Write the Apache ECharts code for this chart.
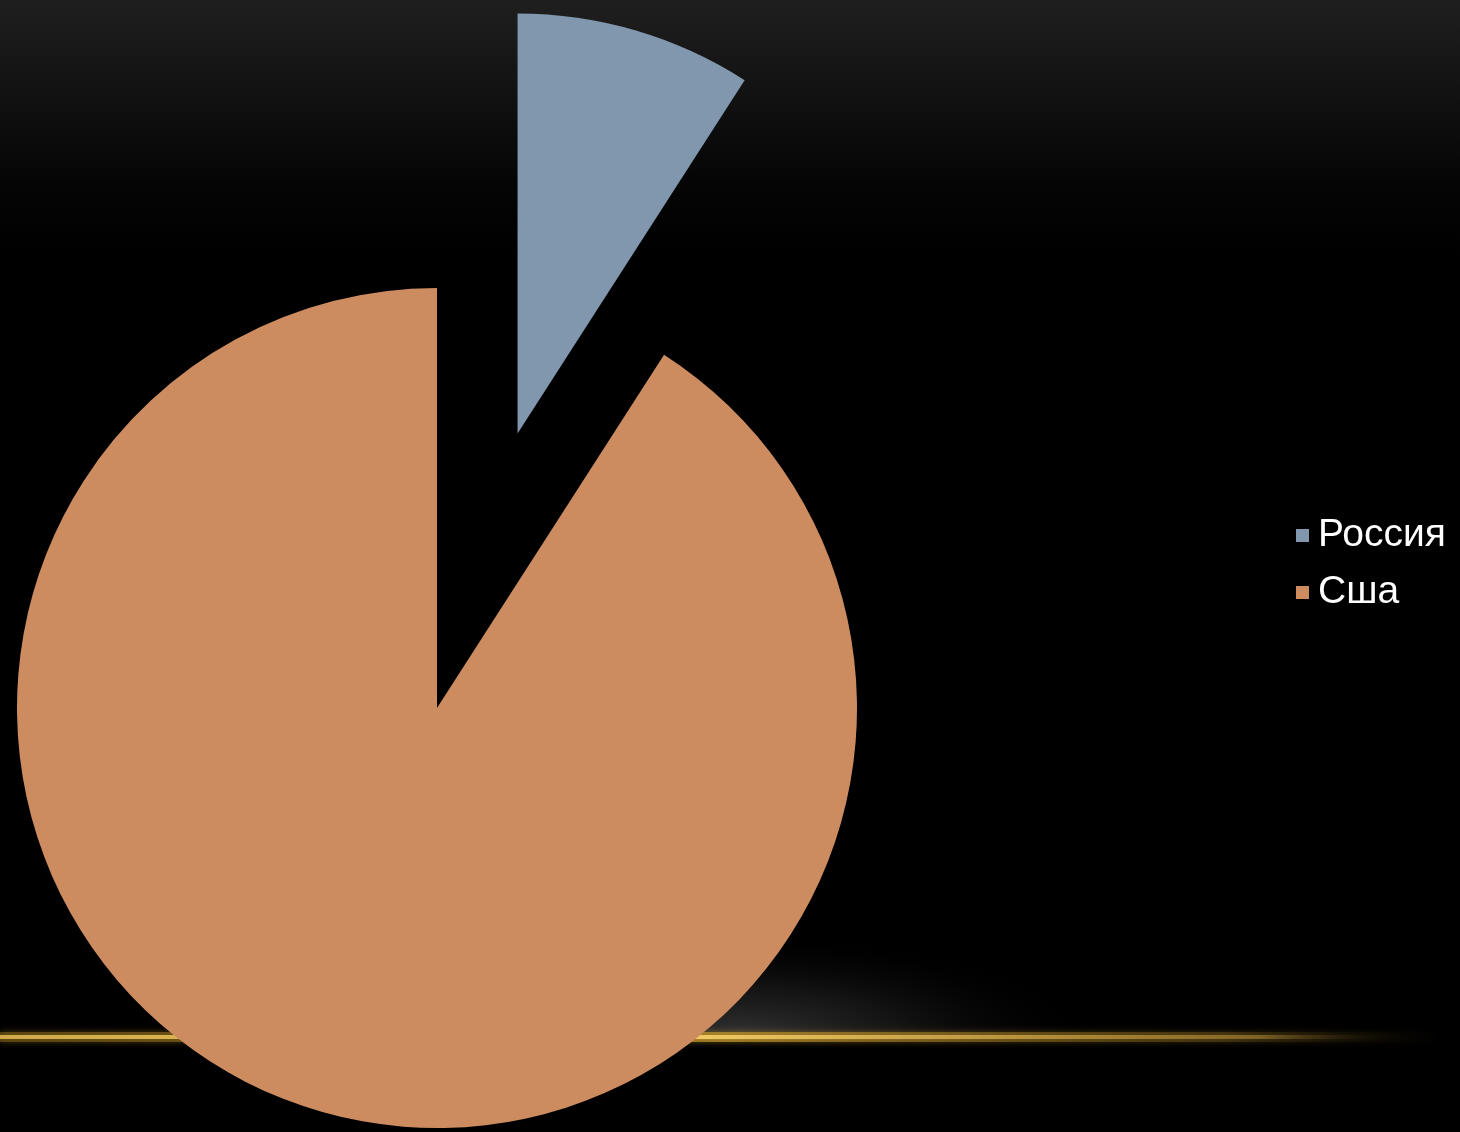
<!DOCTYPE html>
<html>
<head>
<meta charset="utf-8">
<script src="https://cdn.jsdelivr.net/npm/echarts@6/dist/echarts.min.js"></script>
<style>
html,body{margin:0;padding:0;background:#000;}
#chart{width:1460px;height:1132px;}
</style>
</head>
<body>
<div id="chart"></div>
<script>
var categories = ['Россия', 'Сша'];
var values = [10, 100];
var colors = ['#8097AE', '#CC8C60'];

var chart = echarts.init(document.getElementById('chart'), null, {renderer: 'canvas'});
var data = categories.map(function (c, i) {
  return {name: c, value: values[i], selected: i === 0, itemStyle: {color: colors[i]}};
});
chart.setOption({
  backgroundColor: '#000',
  animation: false,
  graphic: [
    {type: 'rect', z: -10, shape: {x: 0, y: 0, width: 1460, height: 260},
      style: {fill: new echarts.graphic.LinearGradient(0, 0, 0, 1, [
        {offset: 0, color: '#1f1f1f'}, {offset: 0.7, color: '#050505'}, {offset: 1, color: '#000'}])}},
    {type: 'circle', z: -9, x: 740, y: 1036, scaleX: 3.4, scaleY: 1,
      shape: {cx: 0, cy: 0, r: 105},
      style: {fill: new echarts.graphic.RadialGradient(0.5, 0.5, 0.5, [
        {offset: 0, color: 'rgba(50,50,50,1)'}, {offset: 0.45, color: 'rgba(25,25,25,0.8)'}, {offset: 1, color: 'rgba(0,0,0,0)'}])}},
    {type: 'rect', z: -8.5, shape: {x: 0, y: 1040, width: 1460, height: 100},
      style: {fill: '#000'}},
    {type: 'rect', z: -8, shape: {x: 0, y: 1032, width: 1440, height: 10},
      style: {fill: new echarts.graphic.LinearGradient(0, 0, 1, 0, [
        {offset: 0, color: 'rgba(120,90,20,0.6)'}, {offset: 0.5, color: 'rgba(180,140,40,0.8)'}, {offset: 0.85, color: 'rgba(120,90,25,0.4)'}, {offset: 1, color: 'rgba(0,0,0,0)'}]),
        shadowBlur: 6, shadowColor: 'rgba(200,150,40,0.6)'}},
    {type: 'rect', z: -7, shape: {x: 0, y: 1035, width: 1400, height: 4},
      style: {fill: new echarts.graphic.LinearGradient(0, 0, 1, 0, [
        {offset: 0, color: 'rgba(220,180,80,0.9)'}, {offset: 0.5, color: 'rgba(240,200,100,1)'}, {offset: 0.9, color: 'rgba(190,150,60,0.5)'}, {offset: 1, color: 'rgba(0,0,0,0)'}])}}
  ],
  legend: {
    orient: 'vertical',
    left: 1296,
    top: 516,
    padding: 0,
    icon: 'rect',
    itemWidth: 13,
    itemHeight: 13,
    itemGap: 18,
    selectedMode: false,
    textStyle: {color: '#ffffff', fontSize: 39, fontFamily: 'Liberation Sans', padding: [0, 0, 0, 4]},
    data: categories
  },
  series: [{
    type: 'pie',
    center: [437, 708],
    radius: 420,
    startAngle: 90,
    clockwise: true,
    selectedMode: 'single',
    selectedOffset: 286,
    label: {show: false},
    labelLine: {show: false},
    emphasis: {disabled: true},
    data: data
  }]
});
</script>
</body>
</html>
